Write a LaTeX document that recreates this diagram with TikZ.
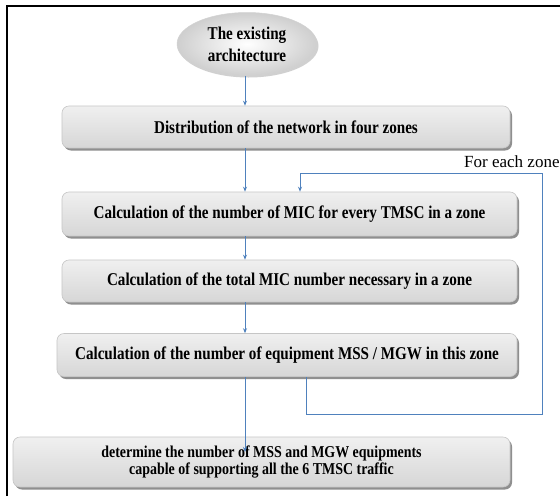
\documentclass[tikz,border=0pt]{standalone}
\usepackage{fontspec}
\setmainfont{Liberation Serif}
\newfontfamily\boxfont{Liberation Serif}[FakeStretch=0.84]
\usetikzlibrary{shapes.geometric,shadows,arrows.meta}
\definecolor{flowblue}{RGB}{79,129,189}
\tikzset{
  stepbox/.style={rectangle, rounded corners=7pt, draw=gray!45, line width=0.6pt,
    top color=gray!12, middle color=white, bottom color=gray!32,
    drop shadow={shadow xshift=2pt, shadow yshift=-2.5pt, fill=black!55, opacity=0.8},
    inner sep=0pt, align=center,
    font=\boxfont\bfseries\fontsize{18}{19}\selectfont},
  startbox/.style={ellipse, draw=gray!35, line width=0.5pt,
    inner color=white, outer color=gray!38,
    drop shadow={shadow xshift=1.5pt, shadow yshift=-2pt, fill=black!30, opacity=0.6},
    inner sep=0pt, align=center,
    font=\boxfont\bfseries\fontsize{18}{19}\selectfont},
  flow/.style={draw=flowblue, line width=0.8pt, -{Stealth[length=5pt,width=4pt]}},
  loopline/.style={draw=flowblue, line width=1pt},
}
\begin{document}
\begin{tikzpicture}[x=1pt, y=-1pt]
  \useasboundingbox (0,0) rectangle (560,496);
  \fill[white] (0,0) rectangle (560,496);
  % page frame
  \draw[line width=2pt] (6.5,496) -- (6.5,6) -- (560,6);

  % process steps
  \node[startbox, minimum width=140, minimum height=63] (arch) at (247,44)
    {The existing\\[3pt]architecture};
  \node[stepbox, minimum width=448, minimum height=42] (dist) at (286,127)
    {Distribution of the network in four zones};
  \node[stepbox, minimum width=455, minimum height=44] (micz) at (289.5,214)
    {Calculation of the number of MIC for every TMSC in a zone};
  \node[stepbox, minimum width=455, minimum height=42] (total) at (289.5,281)
    {Calculation of the total MIC number necessary in a zone};
  \node[stepbox, minimum width=460, minimum height=43] (equip) at (287,355)
    {Calculation of the number of equipment MSS / MGW in this zone};
  \node[stepbox, minimum width=497, minimum height=50,
        font=\boxfont\bfseries\fontsize{16.6}{18}\selectfont] (final) at (261.5,462)
    {determine the number of MSS and MGW equipments\\[-1pt]capable of supporting all the 6 TMSC traffic};

  % main flow
  \coordinate (spine) at (245,0);
  \coordinate (finalin) at (245,452);
  \draw[flow] (arch.south -| spine) -- (dist.north -| spine);
  \draw[flow] (dist.south -| spine) -- (micz.north -| spine);
  \draw[flow] (micz.south -| spine) -- (total.north -| spine);
  \draw[flow] (total.south -| spine) -- (equip.north -| spine);
  \draw[flow] (equip.south -| spine) -- (finalin);

  % loop over the zones
  \coordinate (lb) at (306,414);
  \coordinate (rb) at (542,414);
  \coordinate (rt) at (542,173);
  \coordinate (lt) at (300,173);
  \draw[loopline] (equip.south -| lb) -- (lb) -- (rb) -- (rt) -- (lt);
  \draw[flow, line width=1pt] (lt) -- (micz.north -| lt);
  \node[anchor=west, inner sep=0pt, font=\fontsize{17}{19}\selectfont] (zone) at (464,162)
    {For each zone};
\end{tikzpicture}
\end{document}
